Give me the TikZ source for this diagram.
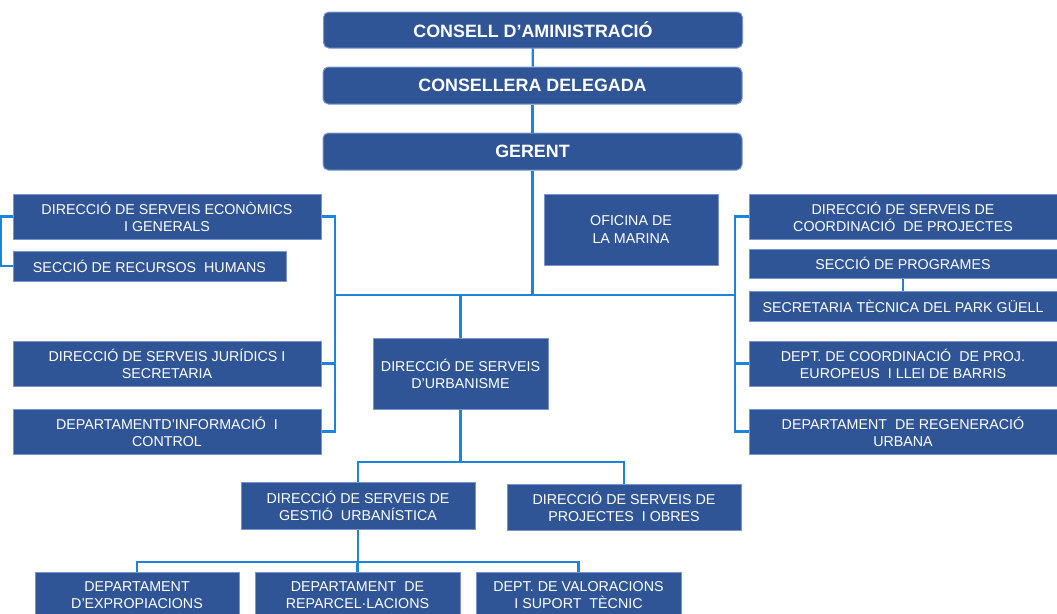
\documentclass[tikz,border=0pt]{standalone}
\usepackage{fontspec}
\setmainfont{Liberation Sans}
\definecolor{boxblue}{RGB}{47,85,151}
\definecolor{boxedge}{RGB}{120,150,205}
\definecolor{linkblue}{RGB}{30,132,218}

\tikzset{every picture/.style={line width=0.75pt}}
\tikzset{
  unit/.style={draw=boxedge, fill=boxblue, text=white, inner sep=0pt, align=center,
    font=\fontsize{10.7}{12.8}\selectfont},
  headbox/.style={unit, rounded corners=4pt, minimum width=419*0.75pt, minimum height=37*0.75pt,
    font=\fontsize{13.4}{16}\selectfont\bfseries},
  link/.style={draw=linkblue, line width=1.7pt},
}

\begin{document}
\begin{tikzpicture}[x=0.75pt,y=0.75pt,yscale=-1,xscale=1]
        \useasboundingbox (0,0) rectangle (1057,614);

        %Rounded Rect: top of the chart
        \node [headbox, minimum height=36*0.75pt] (consell) at (533,30) {CONSELL D’AMINISTRACIÓ};
        \node [headbox] (consellera) at (532.5,85.5) {CONSELLERA DELEGADA};
        \node [headbox] (gerent) at (532.5,151.5) {GERENT};

        %Shape: Rectangle -- left column
        \node [unit, minimum width=308*0.75pt, minimum height=45*0.75pt] (econ) at (167,216.5) {DIRECCIÓ DE SERVEIS ECONÒMICS\\I GENERALS};
        \node [unit, minimum width=273*0.75pt, minimum height=30*0.75pt] (rrhh) at (149.5,266) {SECCIÓ DE RECURSOS\ \ HUMANS};
        \node [unit, minimum width=308*0.75pt, minimum height=45*0.75pt] (juridics) at (167,363.5) {DIRECCIÓ DE SERVEIS JURÍDICS I\\SECRETARIA};
        \node [unit, minimum width=308*0.75pt, minimum height=45*0.75pt] (control) at (167,431.5) {DEPARTAMENTD’INFORMACIÓ\ \ I\\CONTROL};

        %Shape: Rectangle -- middle
        \node [unit, minimum width=174*0.75pt, minimum height=71*0.75pt] (marina) at (631,229.5) {OFICINA DE\\LA MARINA};
        \node [unit, minimum width=175*0.75pt, minimum height=71*0.75pt] (urbanisme) at (460.5,373.5) {DIRECCIÓ DE SERVEIS\\D’URBANISME};

        %Shape: Rectangle -- right column
        \node [unit, minimum width=308*0.75pt, minimum height=45*0.75pt] (coord) at (903,216.5) {DIRECCIÓ DE SERVEIS DE\\COORDINACIÓ\ \ DE PROJECTES};
        \node [unit, minimum width=308*0.75pt, minimum height=29*0.75pt] (programes) at (903,263.5) {SECCIÓ DE PROGRAMES};
        \node [unit, minimum width=308*0.75pt, minimum height=30*0.75pt] (parkguell) at (903,306) {SECRETARIA\ TÈCNICA\ DEL PARK\ GÜELL};
        \node [unit, minimum width=308*0.75pt, minimum height=45*0.75pt] (europeus) at (903,363.5) {DEPT. DE COORDINACIÓ\ \ DE PROJ.\\EUROPEUS\ \ I LLEI DE BARRIS};
        \node [unit, minimum width=308*0.75pt, minimum height=45*0.75pt] (regeneracio) at (903,431.5) {DEPARTAMENT\ \ DE REGENERACIÓ\\URBANA};

        %Shape: Rectangle -- urbanisme branch
        \node [unit, minimum width=234*0.75pt, minimum height=47*0.75pt] (gestio) at (358,505.5) {DIRECCIÓ DE SERVEIS DE\\GESTIÓ\ \ URBANÍSTICA};
        \node [unit, minimum width=234*0.75pt, minimum height=46*0.75pt] (obres) at (624,507) {DIRECCIÓ DE SERVEIS DE\\PROJECTES\ \ I OBRES};
        \node [unit, minimum width=204*0.75pt, minimum height=47*0.75pt] (expropiacions) at (137,595.5) {DEPARTAMENT\\D’EXPROPIACIONS};
        \node [unit, minimum width=205*0.75pt, minimum height=47*0.75pt] (reparcel) at (357.5,595.5) {DEPARTAMENT\ \ DE\\REPARCEL·LACIONS};
        \node [unit, minimum width=205*0.75pt, minimum height=47*0.75pt] (valoracions) at (578.5,595.5) {DEPT. DE VALORACIONS\\I SUPORT\ \ TÈCNIC};

        %Straight Lines
        \coordinate (busL) at (335,295);
        \coordinate (busR) at (735,295);
        \coordinate (urbBus) at (460.5,462);
        \coordinate (gestBus) at (358,562);

        \draw [link] (consell) -- (consellera);
        \draw [link] (consellera) -- (gerent);
        \draw [link] (gerent.south) -- (gerent.south |- busL);
        \draw [link] (busL) -- (busR);

        %left bracket
        \draw [link] (econ.east) -| (busL) |- (control.east);
        \draw [link] (juridics.east) -| (busL);
        \draw [link] (econ.west) -- ++(-12,0) |- (rrhh.west);

        %right bracket
        \draw [link] (coord.west) -| (busR) |- (regeneracio.west);
        \draw [link] (europeus.west) -| (busR);
        \draw [link] (programes) -- (parkguell);

        %urbanisme
        \draw [link] (urbanisme.north) -- (urbanisme.north |- busL);
        \draw [link] (urbanisme.south) -- (urbBus);
        \draw [link] (gestio.north) |- (urbBus) -| (obres.north);
        \draw [link] (gestio.south) -- (gestBus);
        \draw [link] (expropiacions.north) |- (gestBus) -| (valoracions.north);
        \draw [link] (reparcel.north) -- (reparcel.north |- gestBus);

\end{tikzpicture}
\end{document}
